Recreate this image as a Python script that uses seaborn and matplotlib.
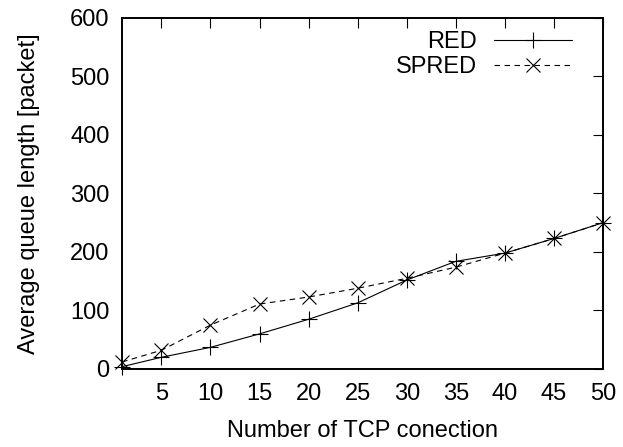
import matplotlib
matplotlib.use("Agg")
import matplotlib.pyplot as plt
import seaborn as sns
import pandas as pd

connections = [1, 5, 10, 15, 20, 25, 30, 35, 40, 45, 50]
red_queue = [4, 20, 37, 60, 85, 113, 152, 184, 198, 223, 250]
spred_queue = [12, 32, 75, 111, 123, 138, 155, 174, 198, 223, 250]
x_ticks = [5, 10, 15, 20, 25, 30, 35, 40, 45, 50]
y_ticks = [0, 100, 200, 300, 400, 500, 600]

sns.set_style("white")
plt.rcParams["font.family"] = ["Liberation Sans", "DejaVu Sans"]
plt.rcParams["text.color"] = "black"
plt.rcParams["axes.labelcolor"] = "black"

df = pd.DataFrame({
    "x": connections * 2,
    "y": red_queue + spred_queue,
    "series": ["RED"] * len(connections) + ["SPRED"] * len(connections),
})

fig = plt.figure(figsize=(6.23, 4.47), dpi=100)
ax = fig.add_axes([0.196, 0.1745, 0.772, 0.7855])

sns.lineplot(data=df[df.series == "RED"], x="x", y="y", ax=ax, color="black",
             linewidth=0.8, marker="+", markersize=11, markeredgewidth=0.8,
             markeredgecolor="black", label="RED", clip_on=False, zorder=5)
sns.lineplot(data=df[df.series == "SPRED"], x="x", y="y", ax=ax, color="black",
             linewidth=0.8, marker="x", markersize=10, markeredgewidth=0.8,
             markeredgecolor="black", label="SPRED", clip_on=False, zorder=5)
ax.lines[1].set_dashes([5, 4])

ax.set_xlim(1, 50)
ax.set_ylim(0, 600)
ax.set_xticks(x_ticks)
ax.set_yticks(y_ticks)
ax.tick_params(direction="in", length=7.5, width=0.8, top=True, right=True,
               labelsize=17, color="black", labelcolor="black")
ax.tick_params(axis="x", pad=10)
ax.tick_params(axis="y", pad=9)
for s in ax.spines.values():
    s.set_linewidth(1.4)
    s.set_color("black")

ax.set_xlabel("Number of TCP conection", fontsize=17, labelpad=11)
ax.set_ylabel("Average queue length [packet]", fontsize=17, labelpad=22)

leg = ax.legend(loc="upper right", bbox_to_anchor=(0.936, 0.963),
                frameon=False, markerfirst=False,
                fontsize=17, handlelength=3.3, handletextpad=0.72,
                labelspacing=0.15, borderaxespad=0, borderpad=0)
for h in leg.legend_handles:
    h.set_color("black")
leg.legend_handles[1].set_dashes([5, 4])

fig.savefig("out.png", dpi=100)
